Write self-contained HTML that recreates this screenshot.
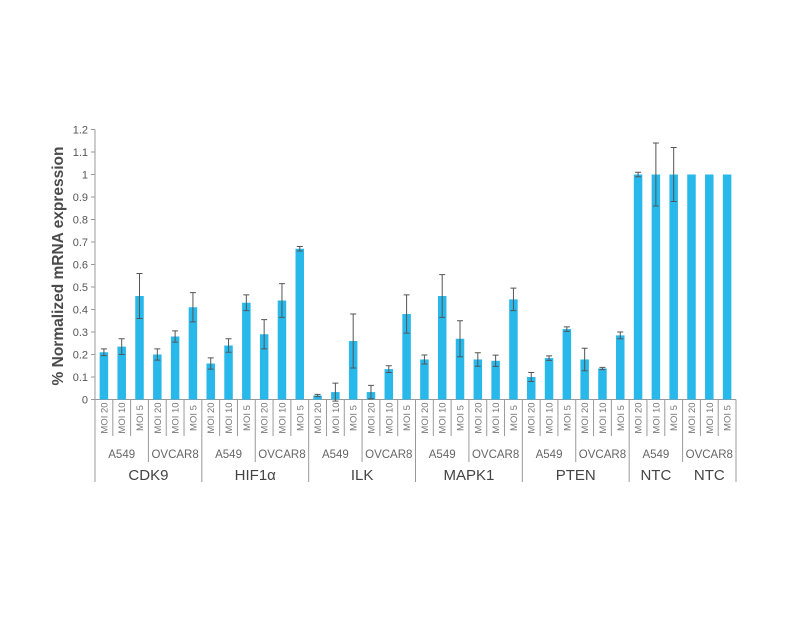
<!DOCTYPE html>
<html><head><meta charset="utf-8"><style>
html,body{margin:0;padding:0;background:#fff;}
svg text{font-family:"Liberation Sans","DejaVu Sans",sans-serif;}
</style></head><body>
<svg id="chart" width="792" height="612" viewBox="0 0 792 612" xmlns="http://www.w3.org/2000/svg">
<text transform="translate(63,266) rotate(-90)" text-anchor="middle" font-size="15.5" font-weight="bold" fill="#4a4a4a">% Normalized mRNA expression</text>
<g id="g"></g>
</svg>
<script>
const genes = ["CDK9","HIF1α","ILK","MAPK1","PTEN","NTC","NTC"];
const cellLines = ["A549","OVCAR8"];
const mois = ["MOI 20","MOI 10","MOI 5"];
const values = [0.21,0.235,0.46,0.2,0.28,0.41, 0.16,0.24,0.43,0.29,0.44,0.67, 0.018,0.033,0.26,0.033,0.135,0.38, 0.178,0.46,0.27,0.178,0.172,0.445, 0.1,0.184,0.313,0.178,0.138,0.285, 1,1,1,1,1,1];
const errors = [0.015,0.035,0.1,0.025,0.025,0.065, 0.025,0.03,0.035,0.065,0.075,0.01, 0.005,0.04,0.12,0.03,0.015,0.085, 0.02,0.095,0.08,0.03,0.025,0.05, 0.02,0.01,0.01,0.05,0.005,0.015, 0.01,0.14,0.12,0,0,0];
const yTicks = [0,0.1,0.2,0.3,0.4,0.5,0.6,0.7,0.8,0.9,1,1.1,1.2];
const yTickLabels = ["0","0.1","0.2","0.3","0.4","0.5","0.6","0.7","0.8","0.9","1","1.1","1.2"];

const g = document.getElementById('g');
const NS = "http://www.w3.org/2000/svg";
const X0 = 95, X1 = 736, Y0 = 399.5, YTOP = 129.5;
const n = values.length, step = (X1 - X0) / n;
const y = v => Y0 - (v / 1.2) * (Y0 - YTOP);
const xc = i => X0 + step * (i + 0.5);
function mk(tag, attrs){const e=document.createElementNS(NS,tag);for(const k in attrs)e.setAttribute(k,attrs[k]);g.appendChild(e);return e;}

let ax = mk('line',{x1:X0,y1:YTOP,x2:X0,y2:Y0,stroke:'#999','stroke-width':1});


yTicks.forEach((t,i)=>{
  let tk = mk('line',{x1:X0-4,y1:y(t),x2:X0,y2:y(t),stroke:'#999','stroke-width':1});
  
  
  let tl = mk('text',{x:X0-7,y:y(t)+4,'text-anchor':'end','font-size':11,fill:'#555'});
  tl.textContent = yTickLabels[i];
  
  
});
let xa = mk('line',{x1:X0,y1:Y0,x2:X1,y2:Y0,stroke:'#999','stroke-width':1});



values.forEach((v,i)=>{
  const bw = 8.5;
  let r = mk('rect',{x:xc(i)-bw/2,y:y(v),width:bw,height:Y0-y(v),fill:'#29b8ea'});
  
  
  const e = errors[i];
  if(e>0){
    let l = mk('path',{d:`M${xc(i)},${y(v+e)}V${y(v-e)}M${xc(i)-3},${y(v+e)}h6M${xc(i)-3},${y(v-e)}h6`,stroke:'#555','stroke-width':1,fill:'none'});
    
    
  }
  let t = mk('text',{transform:`translate(${xc(i)+3.5},418) rotate(-90)`,'text-anchor':'middle','font-size':9.5,fill:'#777'});
  t.textContent = mois[i%3];
  
  
}); 
for(let i=0;i<=n;i++){
  const xs = X0 + step*i;
  let bottom = (i%6===0)?482:(i%3===0)?462:436;
  let s = mk('line',{x1:xs,y1:Y0,x2:xs,y2:bottom,stroke:'#999','stroke-width':1});
  
  
}
for(let k=0;k<n/3;k++){
  let t = mk('text',{x:X0+step*(k*3+1.5),y:458,'text-anchor':'middle','font-size':11.5,fill:'#666'});
  t.textContent = cellLines[k%2];
  
  
}
const geneSpans = [[0,6],[6,12],[12,18],[18,24],[24,30],[30,33],[33,36]];
geneSpans.forEach((s,k)=>{
  let t = mk('text',{x:X0+step*(s[0]+s[1])/2,y:480,'text-anchor':'middle','font-size':15,fill:'#444'});
  t.textContent = genes[k];
  
  
});
</script>
</body></html>
